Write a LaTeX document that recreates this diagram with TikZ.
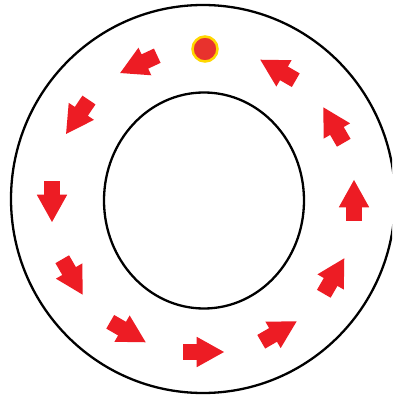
\documentclass[tikz,border=0pt]{standalone}
\usetikzlibrary{shapes.geometric}
\definecolor{arrred}{RGB}{237,28,36}
\definecolor{dotred}{RGB}{232,50,45}
\definecolor{dotyel}{RGB}{255,215,0}
\tikzset{
  ring/.style={draw=black, line width=2.3pt},
  flowarrow/.style={fill=arrred, draw=none},
}
\newcommand{\flowarr}[1]{%
  \fill[flowarrow, shift={(#1:151)}, rotate=#1+90, scale=1.05]
    (20,0) -- (-6,14.5) -- (-6,7.5) -- (-19,7.5) -- (-19,-7.5) -- (-6,-7.5) -- (-6,-14.5) -- cycle;}
\begin{document}
\begin{tikzpicture}[x=1pt,y=1pt]
  \useasboundingbox (-203,-195) rectangle (189,201);
  \clip (-203,-195) rectangle (189,201);
  \fill[white] (-203,-195) rectangle (189,201);
  \node[ring, ellipse, minimum width=384pt, minimum height=388pt, inner sep=0pt] (outer) at (0,2) {};
  \node[ring, ellipse, minimum width=200pt, minimum height=216pt, inner sep=0pt] (inner) at (1,0.5) {};
  \node[circle, fill=dotred, draw=dotyel, line width=2.5pt, minimum size=25pt, inner sep=0pt] (dot) at (2,152) {};
  \foreach \a in {115,146,180,210,240,270,300,330,0,30,60} {\flowarr{\a}}
\end{tikzpicture}
\end{document}
